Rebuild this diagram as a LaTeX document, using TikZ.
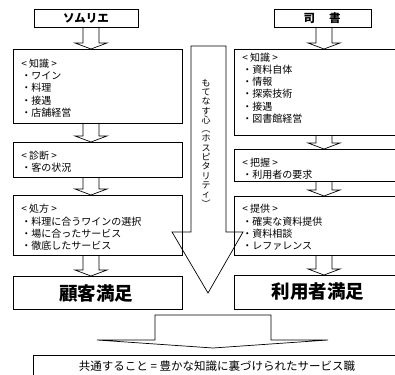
\documentclass[tikz,border=0pt]{standalone}
\usepackage{fontspec}
\setmainfont{Noto Sans CJK JP}
\newcommand\blockdown[4]{% x, top, base, tip
  \draw (#1-8,#2) -- (#1-8,#3) -- (#1-16,#3) -- (#1,#4) -- (#1+16,#3) -- (#1+8,#3) -- (#1+8,#2);}
\newcommand\vparen[1]{\smash{\rotatebox[origin=c]{-90}{#1}}}
\begin{document}
\begin{tikzpicture}[x=1pt,y=-1pt,line width=0.7pt,
  box/.style={draw, anchor=north west, inner sep=0pt, outer sep=0pt},
  txt/.style={anchor=west, align=left, inner sep=0pt, font=\fontsize{10}{12.3}\selectfont},
  title/.style={inner sep=0pt, font=\fontsize{11.5}{12}\selectfont\bfseries},
  big/.style={inner sep=0pt, font=\fontsize{18.5}{20}\selectfont\bfseries}]
\path[use as bounding box, clip] (0,0) rectangle (395,374);

% titles
\node[box, minimum width=104pt, minimum height=18pt] (som) at (34,9) {};
\node[title] (somt) at (86,18) {ソムリエ};
\node[box, minimum width=97pt, minimum height=18pt] (lib) at (274,9) {};
\node[title] (libt) at (322,18) {司\hspace{14pt}書};

% left column
\node[box, minimum width=169pt, minimum height=74pt] (sk) at (13,49) {};
\node[txt] (skt) at (21,88) {< 知識 >\\・ワイン\\・料理\\・接遇\\・店舗経営};
\node[box, minimum width=169pt, minimum height=35pt] (sd) at (13,142) {};
\node[txt] (sdt) at (21,162) {< 診断 >\\・客の状況};
\node[box, minimum width=169pt, minimum height=60pt] (sp) at (13,195) {};
\node[txt] (spt) at (21,227.5) {< 処方 >\\・料理に合うワインの選択\\・場に合ったサービス\\・徹底したサービス};
\node[box, minimum width=169pt, minimum height=33pt] (cs) at (13,276) {};
\node[big] (cst) at (96,293) {顧客満足};

% right column
\node[box, minimum width=168pt, minimum height=86pt] (lk) at (234,49) {};
\node[txt] (lkt) at (242,88) {< 知識 >\\・資料自体\\・情報\\・探索技術\\・接遇\\・図書館経営};
\node[box, minimum width=168pt, minimum height=32pt] (lg) at (234,149) {};
\node[txt] (lgt) at (242,168.5) {< 把握 >\\・利用者の要求};
\node[box, minimum width=168pt, minimum height=59pt] (lp) at (234,196) {};
\node[txt] (lpt) at (242,227.5) {< 提供 >\\・確実な資料提供\\・資料相談\\・レファレンス};
\node[box, minimum width=168pt, minimum height=34pt] (us) at (234,275) {};
\node[big] (ust) at (318,292) {利用者満足};

% column arrows
\blockdown{91}{27}{43}{49}
\blockdown{91}{123}{136}{142}
\blockdown{91}{177}{189}{195}
\blockdown{91}{255}{270}{276}
\blockdown{324}{27}{43}{49}
\blockdown{324}{135}{143}{149}
\blockdown{324}{181}{190}{196}
\blockdown{324}{255}{269}{275}

% central hospitality arrow
\draw (191,46) -- (226,46) -- (226,232) -- (243,232) -- (208,293) -- (172,232) -- (191,232) -- cycle;
\node[inner sep=0pt, align=center, font=\fontsize{9}{9.3}\selectfont] (heart) at (206,143)
  {も\\て\\な\\す\\心\\\vparen{（}\\ホ\\ス\\ピ\\タ\\リ\\テ\\ィ\\\vparen{）}};

% bottom arrow and box
\draw (155,315) -- (271,315) -- (271,340) -- (328,340) -- (213,348) -- (97,340) -- (155,340) -- cycle;
\node[box, minimum width=369pt, minimum height=30pt] (com) at (33,355) {};
\node[inner sep=0pt, font=\fontsize{11.5}{12}\selectfont] (comt) at (217,366) {共通すること = 豊かな知識に裏づけられたサービス職};
\end{tikzpicture}
\end{document}
